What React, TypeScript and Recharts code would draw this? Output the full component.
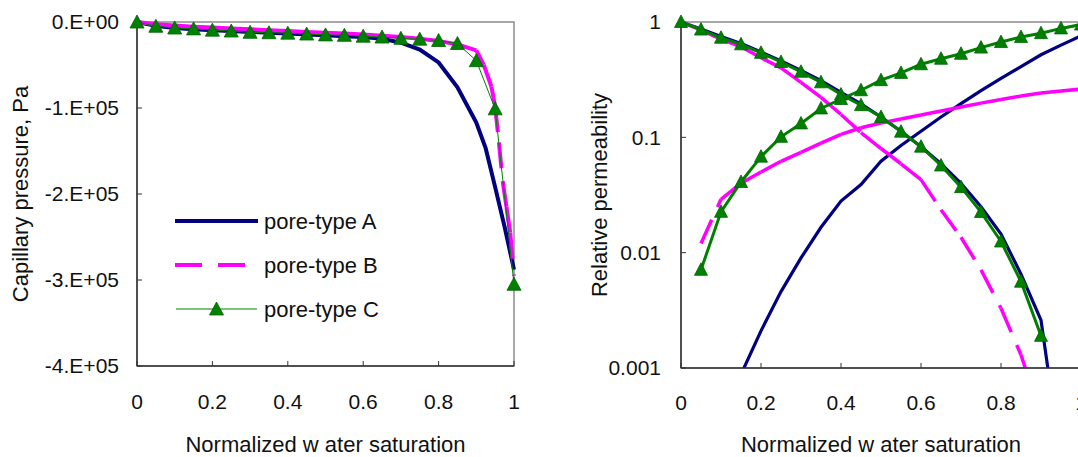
import React from 'react';
import { LineChart, Line, XAxis, YAxis, ReferenceArea } from 'recharts';

const FONT = '"Liberation Sans", Arial, Helvetica, sans-serif';
const NAVY = '#000080';
const MAGENTA = '#FF00FF';
const GREEN = '#008000';

// ---- shared tick labels ----
const satTicks = [0, 0.2, 0.4, 0.6, 0.8, 1];
const satTickLabels = ['0', '0.2', '0.4', '0.6', '0.8', '1'];
const pcTicks = [-400000, -300000, -200000, -100000, 0];
const pcTickLabels = ['-4.E+05', '-3.E+05', '-2.E+05', '-1.E+05', '0.E+00'];
const krTicks = [0.001, 0.01, 0.1, 1];
const krTickLabels = ['0.001', '0.01', '0.1', '1'];
const seriesNames = ['pore-type A', 'pore-type B', 'pore-type C'];
const xTitle = 'Normalized w ater saturation';

// ---- capillary pressure (Pa) ----
const pcSatA = [0, 0.05, 0.1, 0.15, 0.2, 0.25, 0.3, 0.35, 0.4, 0.45, 0.5, 0.55, 0.6, 0.65, 0.7, 0.75, 0.8, 0.85, 0.9, 0.925, 0.95, 0.975, 1.0];
const pcA = [0, -4500, -7000, -8500, -9500, -10500, -11500, -12500, -13500, -14500, -15500, -16500, -17500, -19500, -24000, -32000, -47000, -76000, -117000, -147000, -192000, -238000, -288000];

const pcSatB = [0, 0.05, 0.1, 0.15, 0.2, 0.25, 0.3, 0.35, 0.4, 0.45, 0.5, 0.55, 0.6, 0.65, 0.7, 0.75, 0.8, 0.85, 0.9, 0.92, 0.94, 0.95, 0.96, 0.97, 0.98, 0.99, 1.0];
const pcB = [0, -2500, -4000, -5500, -6500, -7500, -8500, -9500, -10500, -11500, -12500, -13500, -14500, -16000, -17500, -19500, -22000, -26000, -33000, -50000, -75000, -98000, -140000, -185000, -215000, -245000, -295000];

const pcSatC = [0, 0.05, 0.1, 0.15, 0.2, 0.25, 0.3, 0.35, 0.4, 0.45, 0.5, 0.55, 0.6, 0.65, 0.7, 0.75, 0.8, 0.85, 0.9, 0.95, 1.0];
const pcC = [0, -5000, -7000, -8000, -9500, -10500, -12000, -12500, -13000, -14000, -15000, -15500, -16500, -17500, -19000, -20000, -21500, -25000, -45000, -101000, -305000];

// ---- relative permeability ----
const kroSatA = [0, 0.05, 0.1, 0.15, 0.2, 0.25, 0.3, 0.35, 0.4, 0.45, 0.5, 0.55, 0.6, 0.65, 0.7, 0.75, 0.8, 0.85, 0.9, 0.92];
const kroA = [1.0, 0.87, 0.75, 0.65, 0.55, 0.46, 0.38, 0.31, 0.245, 0.195, 0.15, 0.113, 0.083, 0.059, 0.04, 0.025, 0.0145, 0.0065, 0.0026, 0.00085];
const krwSatA = [0.15, 0.2, 0.25, 0.3, 0.35, 0.4, 0.45, 0.5, 0.55, 0.6, 0.65, 0.7, 0.75, 0.8, 0.85, 0.9, 0.95, 1.0];
const krwA = [0.00088, 0.0021, 0.0046, 0.009, 0.0166, 0.028, 0.039, 0.062, 0.085, 0.113, 0.15, 0.196, 0.254, 0.325, 0.41, 0.52, 0.63, 0.76];

const kroSatB = [0, 0.05, 0.1, 0.15, 0.2, 0.25, 0.3, 0.35, 0.4, 0.45, 0.5, 0.55, 0.6, 0.65, 0.7, 0.75, 0.8, 0.85, 0.865];
const kroB = [1.0, 0.85, 0.71, 0.61, 0.49, 0.4, 0.3, 0.222, 0.158, 0.11, 0.08, 0.059, 0.043, 0.0236, 0.0136, 0.0071, 0.0033, 0.0013, 0.0009];
const krwSatB = [0.05, 0.1, 0.15, 0.2, 0.25, 0.3, 0.35, 0.4, 0.45, 0.5, 0.55, 0.6, 0.65, 0.7, 0.75, 0.8, 0.85, 0.9, 0.95, 1.0];
const krwB = [0.012, 0.029, 0.04, 0.05, 0.062, 0.074, 0.089, 0.106, 0.121, 0.133, 0.144, 0.156, 0.169, 0.183, 0.198, 0.213, 0.228, 0.242, 0.252, 0.262];

const kroSatC = [0, 0.05, 0.1, 0.15, 0.2, 0.25, 0.3, 0.35, 0.4, 0.45, 0.5, 0.55, 0.6, 0.65, 0.7, 0.75, 0.8, 0.85, 0.9];
const kroC = [1.0, 0.86, 0.73, 0.64, 0.54, 0.45, 0.37, 0.3, 0.235, 0.19, 0.15, 0.112, 0.083, 0.057, 0.037, 0.0225, 0.0125, 0.0056, 0.0019];
const krwSatC = [0.05, 0.1, 0.15, 0.2, 0.25, 0.3, 0.35, 0.4, 0.45, 0.5, 0.55, 0.6, 0.65, 0.7, 0.75, 0.8, 0.85, 0.9, 0.95, 1.0];
const krwC = [0.0071, 0.0226, 0.041, 0.068, 0.101, 0.132, 0.178, 0.215, 0.256, 0.313, 0.362, 0.43, 0.48, 0.53, 0.6, 0.67, 0.74, 0.8, 0.88, 0.95];

// helpers: build point tables from the arrays
const pts = (xs: number[], ys: number[]) => xs.map((x, i) => ({ x, y: ys[i] }));
// dashed series restart their dash pattern at every data segment (as in the original)
const segs = (xs: number[], ys: number[]) =>
  xs.slice(0, -1).map((x, i) => [
    { x, y: ys[i] },
    { x: xs[i + 1], y: ys[i + 1] },
  ]);

const tickStyle = { fill: '#111', fontSize: 21, fontFamily: FONT };
const titleStyle = { fill: '#111', fontSize: 22, fontFamily: FONT };

const makeTriangle = (half: number, up: number, down: number) => (props: any) => {
  const { cx, cy, index } = props;
  if (cx == null || cy == null) return <g key={`t-${index}`} />;
  return (
    <polygon
      key={`t-${index}`}
      points={`${cx},${cy - up} ${cx - half},${cy + down} ${cx + half},${cy + down}`}
      fill={GREEN}
      stroke="#006400"
      strokeWidth={0.8}
    />
  );
};
const TriBig = makeTriangle(7, 7, 6);
const TriSmall = makeTriangle(6.5, 7, 5.5);

const satLabel = (v: number) => satTickLabels[satTicks.indexOf(v)] ?? String(v);

function CapillaryChart() {
  return (
    <LineChart width={540} height={457} margin={{ top: 22, right: 26, bottom: 0, left: 0 }}>
      <ReferenceArea x1={0} x2={1} y1={-400000} y2={0} fill="none" stroke="#8c8c8c" strokeWidth={1.5} ifOverflow="visible" />
      <XAxis
        type="number"
        dataKey="x"
        domain={[0, 1]}
        ticks={satTicks}
        interval={0}
        tickFormatter={satLabel}
        height={91}
        tickSize={-5}
        tickMargin={33}
        axisLine={{ stroke: '#333', strokeWidth: 1.5 }}
        tickLine={{ stroke: '#333' }}
        tick={tickStyle}
        label={{ value: xTitle, position: 'insideBottom', offset: 5, ...titleStyle }}
      />
      <YAxis
        type="number"
        domain={[-400000, 0]}
        ticks={pcTicks}
        interval={0}
        tickFormatter={(v: number) => pcTickLabels[pcTicks.indexOf(v)] ?? String(v)}
        width={137}
        tickSize={-5}
        tickMargin={23}
        axisLine={{ stroke: '#333', strokeWidth: 1.5 }}
        tickLine={{ stroke: '#333' }}
        tick={tickStyle}
        label={{
          value: 'Capillary pressure, Pa',
          angle: -90,
          position: 'insideLeft',
          offset: 20,
          style: { textAnchor: 'middle' },
          ...titleStyle,
        }}
      />
      <Line data={pts(pcSatA, pcA)} dataKey="y" stroke={NAVY} strokeWidth={4} dot={false} isAnimationActive={false} />
      {segs(pcSatB, pcB).map((s, i) => (
        <Line
          key={`pcb-${i}`}
          data={s}
          dataKey="y"
          stroke={MAGENTA}
          strokeWidth={4}
          strokeDasharray="26 16"
          dot={false}
          isAnimationActive={false}
        />
      ))}
      <Line data={pts(pcSatC, pcC)} dataKey="y" stroke={GREEN} strokeWidth={1} dot={TriBig} isAnimationActive={false} />
    </LineChart>
  );
}

function PermeabilityChart() {
  return (
    <LineChart width={560} height={457} margin={{ top: 22, right: 19, bottom: 0, left: 0 }}>
      <ReferenceArea yAxisId="clip" x1={0} x2={1} y1={0.001} y2={1} fill="none" stroke="#8c8c8c" strokeWidth={1.5} ifOverflow="visible" />
      <XAxis
        type="number"
        dataKey="x"
        domain={[0, 1]}
        ticks={satTicks}
        interval={0}
        tickFormatter={satLabel}
        height={89}
        tickSize={-5}
        tickMargin={32}
        axisLine={{ stroke: '#333', strokeWidth: 1.5 }}
        tickLine={{ stroke: '#333' }}
        tick={tickStyle}
        label={{ value: xTitle, position: 'insideBottom', offset: 5, ...titleStyle }}
      />
      <YAxis
        yAxisId="clip"
        type="number"
        scale="log"
        domain={[0.001, 1]}
        allowDataOverflow
        ticks={krTicks}
        interval={0}
        tickFormatter={(v: number) => krTickLabels[krTicks.indexOf(v)] ?? String(v)}
        width={141}
        tickSize={-5}
        tickMargin={25}
        axisLine={{ stroke: '#333', strokeWidth: 1.5 }}
        tickLine={{ stroke: '#333' }}
        tick={tickStyle}
        label={{
          value: 'Relative permeability',
          angle: -90,
          position: 'insideLeft',
          offset: 59,
          style: { textAnchor: 'middle' },
          ...titleStyle,
        }}
      />
      <YAxis yAxisId="free" type="number" scale="log" domain={[0.001, 1]} hide />
      <Line yAxisId="clip" data={pts(kroSatA, kroA)} dataKey="y" stroke={NAVY} strokeWidth={3.2} dot={false} isAnimationActive={false} />
      <Line yAxisId="clip" data={pts(krwSatA, krwA)} dataKey="y" stroke={NAVY} strokeWidth={3.2} dot={false} isAnimationActive={false} />
      {segs(kroSatB, kroB).map((s, i) => (
        <Line
          key={`krob-${i}`}
          yAxisId="clip"
          data={s}
          dataKey="y"
          stroke={MAGENTA}
          strokeWidth={3.5}
          strokeDasharray="26 14"
          dot={false}
          isAnimationActive={false}
        />
      ))}
      {segs(krwSatB, krwB).map((s, i) => (
        <Line
          key={`krwb-${i}`}
          yAxisId="clip"
          data={s}
          dataKey="y"
          stroke={MAGENTA}
          strokeWidth={3.5}
          strokeDasharray="26 14"
          dot={false}
          isAnimationActive={false}
        />
      ))}
      <Line yAxisId="free" data={pts(kroSatC, kroC)} dataKey="y" stroke={GREEN} strokeWidth={3} dot={TriSmall} isAnimationActive={false} />
      <Line yAxisId="free" data={pts(krwSatC, krwC)} dataKey="y" stroke={GREEN} strokeWidth={3} dot={TriSmall} isAnimationActive={false} />
    </LineChart>
  );
}

function PcLegend() {
  const rows = [221, 265, 309];
  return (
    <svg width={540} height={457} style={{ position: 'absolute', left: 0, top: 0, pointerEvents: 'none' }}>
      <line x1={175} x2={258} y1={rows[0]} y2={rows[0]} stroke={NAVY} strokeWidth={4} />
      <line x1={175} x2={258} y1={rows[1]} y2={rows[1]} stroke={MAGENTA} strokeWidth={4} strokeDasharray="27 16" />
      <line x1={176} x2={257} y1={rows[2]} y2={rows[2]} stroke={GREEN} strokeWidth={1} />
      <polygon points={`216.5,${rows[2] - 7} 209.5,${rows[2] + 6} 223.5,${rows[2] + 6}`} fill={GREEN} stroke="#006400" strokeWidth={0.8} />
      {seriesNames.map((n, i) => (
        <text key={n} x={264} y={rows[i] + 7.8} fill="#111" fontSize={22} fontFamily={FONT}>
          {n}
        </text>
      ))}
    </svg>
  );
}

export default function App() {
  return (
    <div style={{ position: 'absolute', left: 0, top: 0, width: 1078, height: 457, overflow: 'hidden', background: '#fff' }}>
      <div style={{ position: 'absolute', left: 0, top: 0 }}>
        <CapillaryChart />
      </div>
      <PcLegend />
      <div style={{ position: 'absolute', left: 540, top: 0 }}>
        <PermeabilityChart />
      </div>
    </div>
  );
}
